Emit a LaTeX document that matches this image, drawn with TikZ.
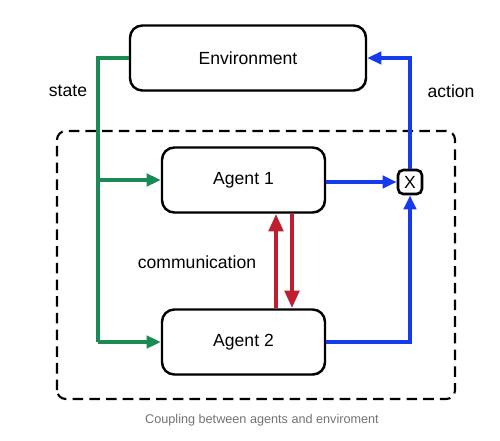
\documentclass[tikz,border=0pt]{standalone}
\usepackage{fontspec}
\setmainfont{Liberation Sans}
\usetikzlibrary{arrows.meta,shadows}
\definecolor{stategreen}{RGB}{28,138,84}
\definecolor{actblue}{RGB}{22,58,238}
\definecolor{commred}{RGB}{190,30,45}
\tikzset{
  agentbox/.style={draw, line width=1.4pt, rounded corners=7pt, fill=white,
    minimum width=3.26cm, minimum height=1.3cm, font=\fontsize{10}{12}\selectfont,
    drop shadow={opacity=0.25, shadow xshift=0.6pt, shadow yshift=-0.8pt}},
  greenline/.style={stategreen, line width=2.1pt},
  blueline/.style={actblue, line width=2.1pt},
  redline/.style={commred, line width=2.7pt, -{Triangle[length=10pt,width=8pt]}},
  tip/.style={-{Triangle[length=8pt,width=7pt]}}
}

\begin{document}
\begin{tikzpicture}
                \useasboundingbox (0, 0) rectangle (10, 8.8);
                % agents group
                \draw[dashed, line width=1.2pt, dash pattern=on 6pt off 3.5pt, rounded corners=5pt] (1.14, 0.82) rectangle (9.1, 6.18);

                \node[agentbox, minimum width=4.72cm] (env) at (4.96, 7.64) {Environment};
                \node[agentbox] (ag1) at (4.87, 5.2) {Agent 1};
                \node[agentbox] (ag2) at (4.87, 1.96) {Agent 2};
                \node[draw, line width=1.5pt, rounded corners=3pt, minimum width=0.48cm, minimum height=0.48cm,
                      inner sep=0pt, font=\fontsize{10}{12}\selectfont] (mix) at (8.2, 5.16) {X};

                % state
                \coordinate (split) at (1.96, 7.64);
                \draw[greenline] (env.west) -- (split) -- (split |- ag2.west);
                \draw[greenline, tip] (split |- ag1.west) -- (ag1.west);
                \draw[greenline, tip] (split |- ag2.west) -- (ag2.west);
                \node (state) at (1.36, 6.98) {\fontsize{10}{12}\selectfont state};

                % action
                \draw[blueline, tip] (ag1.east |- mix) -- (mix.west);
                \draw[blueline, tip] (ag2.east) -| (mix.south);
                \draw[blueline, tip] (mix.north) |- (env.east);
                \node (action) at (9.02, 6.98) {\fontsize{10}{12}\selectfont action};

                % communication
                \draw[redline] (5.52, 0 |- ag2.north) -- (5.52, 0 |- ag1.south);
                \draw[redline] (5.84, 0 |- ag1.south) -- (5.84, 0 |- ag2.north);
                \node (comm) at (3.94, 3.56) {\fontsize{10}{12}\selectfont communication};

                \node[text=black!55] (caption) at (5.24, 0.4) {\fontsize{7.2}{8}\selectfont Coupling between agents and enviroment};
            \end{tikzpicture}
\end{document}
